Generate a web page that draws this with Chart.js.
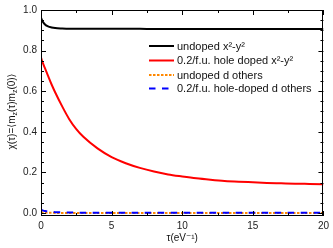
<!DOCTYPE html>
<html>
<head>
<meta charset="utf-8">
<script src="https://cdn.jsdelivr.net/npm/chart.js@4/dist/chart.umd.min.js"></script>
<style>
html,body{margin:0;padding:0;background:#fff;}
canvas{display:block;}
</style>
</head>
<body>
<canvas id="c" width="333" height="248"></canvas>
<script>
// ---- data ----
const tau = [0,0.1,0.25,0.5,0.75,1,1.5,2,2.5,3,4,5,6,7,8,9,10,11,12,13,14,15,16,17,18,19,20];
const undopedX2Y2 = [0.962,0.946,0.931,0.919,0.914,0.911,0.909,0.908,0.908,0.907,0.907,0.907,0.907,0.907,0.906,0.906,0.906,0.906,0.906,0.906,0.906,0.906,0.906,0.906,0.906,0.906,0.906];
const dopedX2Y2 = [0.766,0.745,0.718,0.675,0.633,0.595,0.525,0.462,0.413,0.375,0.318,0.275,0.245,0.222,0.204,0.190,0.180,0.171,0.164,0.158,0.154,0.151,0.148,0.146,0.144,0.143,0.142];
const undopedOthers = [0.002,0.002,0.001,0.001,0.001,0.000,0.000,0.000,0.000,0.000,0.000,0.000,0.000,0.000,0.000,0.000,0.000,0.000,0.000,0.000,0.000,0.000,0.000,0.000,0.000,0.000,0.000];
const dopedOthers = [0.016,0.013,0.010,0.006,0.005,0.004,0.003,0.002,0.002,0.001,0.001,0.001,0.001,0.001,0.001,0.001,0.001,0.001,0.001,0.001,0.001,0.001,0.001,0.001,0.001,0.001,0.001];
const seriesLabels = ["undoped x\u00B2-y\u00B2","0.2/f.u. hole doped x\u00B2-y\u00B2","undoped d others","0.2/f.u. hole-doped d others"];
const xTicks = [0,5,10,15,20];
const yTicks = [0,0.2,0.4,0.6,0.8,1.0];

const FONT = "'Liberation Sans','DejaVu Sans',Arial,sans-serif";
const pts = arr => tau.map((t,i)=>({x:t,y:arr[i]}));

const boxPlugin = {
  id:'box',
  afterDraw(chart){
    const {ctx, chartArea:a, scales:{x,y}} = chart;
    ctx.save();
    ctx.strokeStyle='#000'; ctx.lineWidth=1;
    ctx.strokeRect(Math.round(a.left)+0.5, Math.round(a.top)+0.5, Math.round(a.right-a.left)-1, Math.round(a.bottom-a.top)-1);
    ctx.beginPath();
    for(let v=0; v<=20.001; v+=2.5){
      const px=Math.round(x.getPixelForValue(v))+0.5;
      const L = (Math.abs(v%5)<1e-6)?5:3;
      ctx.moveTo(px,a.bottom); ctx.lineTo(px,a.bottom-L);
      ctx.moveTo(px,a.top); ctx.lineTo(px,a.top+L);
    }
    for(let k=0;k<=20;k++){
      const v=k*0.05;
      const py=Math.round(y.getPixelForValue(v))+0.5;
      const L=(k%4===0)?5:3;
      ctx.moveTo(a.left,py); ctx.lineTo(a.left+L,py);
      ctx.moveTo(a.right,py); ctx.lineTo(a.right-L,py);
    }
    ctx.stroke();

    // legend
    const lx0=149, lx1=174, tx=177, ys=[46,60.5,75,88.5];
    ctx.font='11px '+FONT; ctx.textBaseline='middle'; ctx.fillStyle='#111';
    chart.data.datasets.forEach((ds,i)=>{
      ctx.beginPath();
      ctx.strokeStyle=ds.borderColor; ctx.lineWidth=ds.borderWidth;
      ctx.setLineDash(ds.borderDash||[]);
      ctx.moveTo(lx0,ys[i]); ctx.lineTo(lx1,ys[i]); ctx.stroke();
      ctx.setLineDash([]);
      ctx.fillText(ds.label, tx, ys[i]+0.5);
    });

    // y-axis title with subscripts
    ctx.save();
    ctx.translate(11, (y.getPixelForValue(0)+y.getPixelForValue(1))/2);
    ctx.rotate(-Math.PI/2);
    const parts=[["\u03C7(\u03C4)=\u27E8m",0],["z",1],["(\u03C4)m",0],["z",1],["(0)\u27E9",0]];
    const fn=s=>(s?'7px ':'10px ')+FONT;
    let w=0; parts.forEach(p=>{ctx.font=fn(p[1]); w+=ctx.measureText(p[0]).width;});
    let cx=-w/2; ctx.textBaseline='alphabetic'; ctx.fillStyle='#111';
    parts.forEach(p=>{ctx.font=fn(p[1]); ctx.fillText(p[0],cx,p[1]?6:3.5); cx+=ctx.measureText(p[0]).width;});
    ctx.restore();

    // x-axis title
    ctx.font='10px '+FONT; ctx.textAlign='center'; ctx.textBaseline='middle';
    ctx.fillText("\u03C4(eV\u207B\u00B9)", (a.left+a.right)/2, 238);
    ctx.restore();
  }
};

new Chart(document.getElementById('c'),{
  type:'line',
  data:{datasets:[
    {label:seriesLabels[0],data:pts(undopedX2Y2),borderColor:'#000000',borderWidth:2,pointRadius:0,cubicInterpolationMode:'monotone'},
    {label:seriesLabels[1],data:pts(dopedX2Y2),borderColor:'#ff0000',borderWidth:2,pointRadius:0,cubicInterpolationMode:'monotone'},
    {label:seriesLabels[2],data:pts(undopedOthers),borderColor:'#ff8800',borderWidth:2,borderDash:[2.5,1.5],pointRadius:0,order:1,cubicInterpolationMode:'monotone'},
    {label:seriesLabels[3],data:pts(dopedOthers),borderColor:'#0000ff',borderWidth:2,borderDash:[6.5,6.5],pointRadius:0,cubicInterpolationMode:'monotone'}
  ]},
  options:{
    responsive:false, animation:false, devicePixelRatio:1,
    layout:{padding:{top:9,right:7,left:0,bottom:0}},
    plugins:{legend:{display:false},tooltip:{enabled:false}},
    scales:{
      x:{type:'linear',min:0,max:20,
        afterFit:s=>{s.height=32;},
        afterBuildTicks:s=>{s.ticks=xTicks.map(v=>({value:v}));},
        grid:{display:false,drawTicks:false},border:{display:false},
        ticks:{padding:4,color:'#222',font:{family:FONT,size:10},maxRotation:0,callback:v=>String(v)}},
      y:{type:'linear',min:-0.015,max:1,
        afterFit:s=>{s.width=41;},
        afterBuildTicks:s=>{s.ticks=yTicks.map(v=>({value:v}));},
        grid:{display:false,drawTicks:false},border:{display:false},
        ticks:{padding:4,color:'#222',font:{family:FONT,size:10},callback:v=>Number(v).toFixed(1)}}
    }
  },
  plugins:[boxPlugin]
});
</script>
</body>
</html>
